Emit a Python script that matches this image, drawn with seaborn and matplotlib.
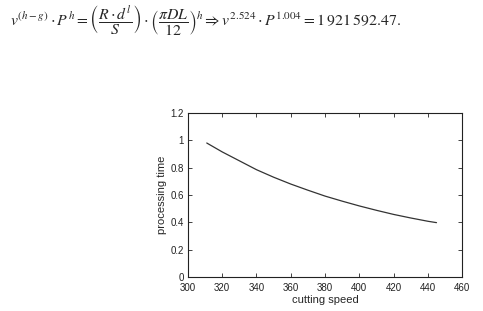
import numpy as np
import pandas as pd
import matplotlib
matplotlib.use("Agg")
import matplotlib.pyplot as plt
import seaborn as sns

# values
cutting_speed = [311, 320, 330, 340, 350, 360, 370, 380, 390, 400, 410, 420, 430, 440, 445]
processing_time = [0.98, 0.915, 0.85, 0.785, 0.73, 0.68, 0.635, 0.592, 0.555, 0.52,
                   0.488, 0.458, 0.432, 0.408, 0.398]
x_ticks = [300, 320, 340, 360, 380, 400, 420, 440, 460]
y_ticks = [0, 0.2, 0.4, 0.6, 0.8, 1, 1.2]

df = pd.DataFrame({"cutting speed": cutting_speed, "processing time": processing_time})

sns.set_style("ticks")
plt.rcParams["font.family"] = ["Liberation Sans", "DejaVu Sans"]
plt.rcParams["mathtext.fontset"] = "stix"

fig = plt.figure(figsize=(4.83, 3.11), dpi=100)
ax = fig.add_axes([0.389, 0.109, 0.568, 0.528])

sns.lineplot(data=df, x="cutting speed", y="processing time", ax=ax,
             color="#333333", linewidth=0.9)

ax.set_xlim(300, 460)
ax.set_ylim(0, 1.2)
ax.set_xticks(x_ticks)
ax.set_yticks(y_ticks)
ax.set_yticklabels(["0", "0.2", "0.4", "0.6", "0.8", "1", "1.2"])
ax.tick_params(direction="in", top=True, right=True, length=3, width=0.6,
               labelsize=7, colors="#222222")
ax.tick_params(axis="x", pad=4)
ax.tick_params(axis="y", pad=3)
ax.get_yticklabels()[0].set_va("center_baseline")
for s in ax.spines.values():
    s.set_linewidth(0.8)
    s.set_color("#222222")
ax.set_xlabel("cutting speed", fontsize=8, labelpad=2)
ax.set_ylabel("processing time", fontsize=8, labelpad=2)

eq = (r"$v^{(h-g)}\cdot P^{h}=\left(\dfrac{R\cdot d^{l}}{S}\right)\cdot"
      r"\left(\dfrac{\pi DL}{12}\right)^{h}\Rightarrow v^{2.524}\cdot P^{1.004}"
      r"=1\:921\:592.47.$")
fig.text(0.02, 0.935, eq, fontsize=11.3, ha="left", va="center")

fig.savefig("out.png", dpi=100)
